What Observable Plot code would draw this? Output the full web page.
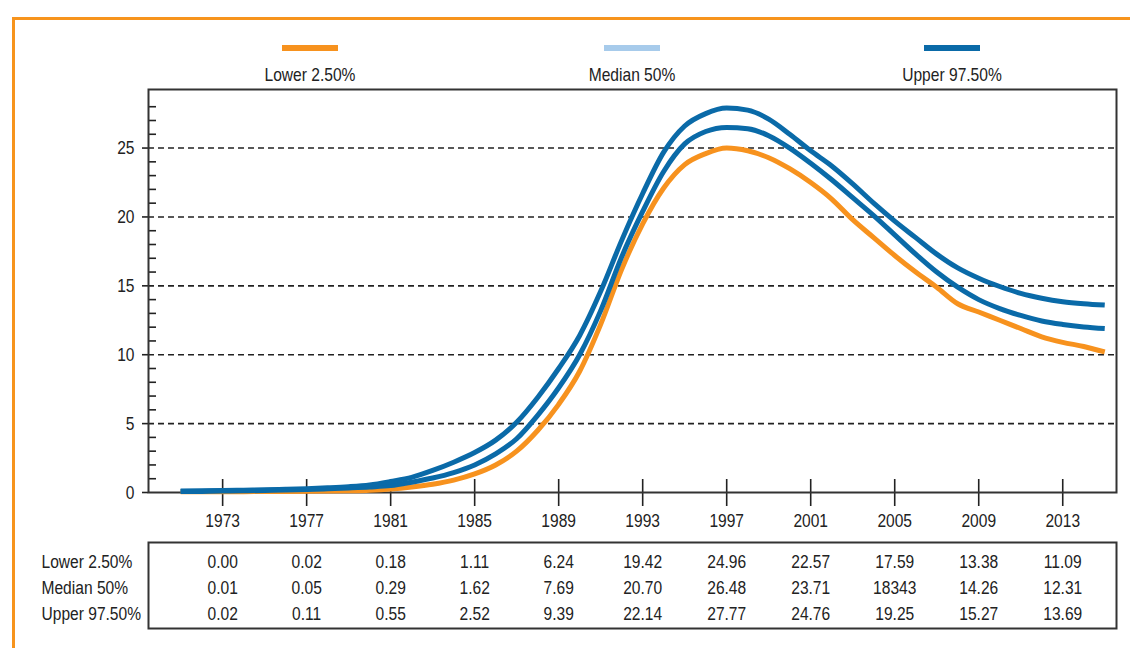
<!DOCTYPE html>
<html><head><meta charset="utf-8">
<script src="https://cdn.jsdelivr.net/npm/d3@7"></script>
<script src="https://cdn.jsdelivr.net/npm/@observablehq/plot@0.6"></script>
<style>
html,body{margin:0;padding:0;background:#fff;overflow:hidden}
#root{position:relative;width:1130px;height:648px;overflow:hidden;font-family:"Liberation Sans",Arial,sans-serif;color:#222}
#border{position:absolute;left:12px;top:17px;width:1200px;height:700px;border-left:3px solid #f7941d;border-top:3px solid #f7941d;box-sizing:border-box}
.sw{position:absolute;top:45px;width:56px;height:6px}
.lab{position:absolute;top:64px;width:200px;text-align:center;font-size:19px;line-height:22px;transform:scaleX(0.82);transform-origin:center}
#chart{position:absolute;left:0;top:80px}
#table{position:absolute;left:0;top:542px}
</style>
</head><body>
<div id="root">
  <div id="border"></div>
  <div id="legend"></div>
  <div id="chart"></div>
  <div id="table"></div>
</div>
<script>
// ---- data ----
const seriesNames = ["Lower 2.50%", "Median 50%", "Upper 97.50%"];
const lineColors = ["#f7921e", "#0a6aa8", "#0a6aa8"];
const legendColors = ["#f7921e", "#a7cbeb", "#0a6aa8"];

const years = [1971,1972,1973,1974,1975,1976,1977,1978,1979,1980,
  1981,1982,1983,1984,1985,1986,1987,1988,1989,1990,
  1991,1992,1993,1994,1995,1996,1997,1998,1999,2000,
  2001,2002,2003,2004,2005,2006,2007,2008,2009,2010,
  2011,2012,2013,2014,2015];

const lower = [0.05,0.05,0.05,0.06,0.07,0.08,0.09,0.10,0.12,0.16,
  0.25,0.4,0.6,0.9,1.35,2.0,3.0,4.5,6.4,8.8,
  12.2,16.2,19.5,22.1,23.8,24.6,25.0,24.8,24.3,23.5,
  22.5,21.3,19.8,18.5,17.2,16.0,14.9,13.7,13.1,12.5,
  11.9,11.3,10.9,10.6,10.2];

const median = [0.07,0.08,0.10,0.12,0.15,0.18,0.22,0.27,0.33,0.40,
  0.5,0.75,1.05,1.45,2.0,2.8,3.9,5.6,7.6,10.0,
  13.2,17.1,20.4,23.3,25.3,26.2,26.5,26.4,25.9,25.0,
  23.9,22.7,21.4,20.1,18.7,17.3,16.0,14.9,14.0,13.35,
  12.85,12.45,12.2,12.02,11.9];

const upper = [0.10,0.12,0.14,0.17,0.20,0.24,0.28,0.34,0.42,0.55,
  0.8,1.1,1.6,2.2,2.9,3.8,5.1,6.9,9.0,11.4,
  14.6,18.3,21.7,24.7,26.6,27.5,27.9,27.75,27.1,26.0,
  24.8,23.7,22.4,21.0,19.7,18.5,17.3,16.3,15.55,14.95,
  14.45,14.1,13.85,13.7,13.6];

const xTicks = [1973,1977,1981,1985,1989,1993,1997,2001,2005,2009,2013];
const yMajorTicks = [0,5,10,15,20,25];
const yMinorTicks = [1,2,3,4,6,7,8,9,11,12,13,14,16,17,18,19,21,22,23,24,26,27,28];

const tableLower  = ["0.00","0.02","0.18","1.11","6.24","19.42","24.96","22.57","17.59","13.38","11.09"];
const tableMedian = ["0.01","0.05","0.29","1.62","7.69","20.70","26.48","23.71","18343","14.26","12.31"];
const tableUpper  = ["0.02","0.11","0.55","2.52","9.39","22.14","27.77","24.76","19.25","15.27","13.69"];

// ---- build ----
const seriesValues = [lower, median, upper];
const xDomain = [1969.47, 2015.56];
const font = '"Liberation Sans",Arial,sans-serif';
const NARROW = 0.82;

// condense SVG text horizontally about its anchor (no narrow font installed)
function narrow(svg) {
  svg.querySelectorAll("text").forEach(t => {
    const x = +t.getAttribute("x") || 0;
    if (x) t.setAttribute("x", x / NARROW);
    t.setAttribute("transform", (t.getAttribute("transform") || "") + ` scale(${NARROW},1)`);
  });
  return svg;
}

// legend
const legendCenters = [310, 632, 952];
const legend = document.getElementById("legend");
seriesNames.forEach((name, i) => {
  const sw = document.createElement("div");
  sw.className = "sw";
  sw.style.left = (legendCenters[i] - 28) + "px";
  sw.style.background = legendColors[i];
  legend.appendChild(sw);
  const lb = document.createElement("div");
  lb.className = "lab";
  lb.style.left = (legendCenters[i] - 100) + "px";
  lb.textContent = name;
  legend.appendChild(lb);
});

const lineData = seriesValues.map(vals => years.map((y, j) => ({year: y, value: vals[j]})));

const chart = Plot.plot({
  width: 1130,
  height: 450,
  marginLeft: 148,
  marginRight: 14,
  marginTop: 9,
  marginBottom: 38,
  style: {fontFamily: font, fontSize: "19px", color: "#222", background: "transparent"},
  x: {domain: xDomain, label: null},
  y: {domain: [0, 29.25], label: null},
  marks: [
    Plot.gridY(yMajorTicks.slice(1), {stroke: "#222", strokeOpacity: 1, strokeWidth: 1.6, strokeDasharray: "6,4"}),
    Plot.axisY(yMajorTicks, {tickSize: 10, tickPadding: 4, stroke: "#222", strokeWidth: 1.6, strokeDasharray: "6,4", fontSize: 19, label: null}),
    Plot.axisY(yMinorTicks, {tickSize: 8, dx: 8, stroke: "#222", strokeWidth: 1.6, fill: "none", label: null}),
    Plot.axisX(xTicks, {tickSize: 14, tickPadding: 7, stroke: "#222", strokeWidth: 1.6, tickFormat: d => String(d), fontSize: 19, label: null}),
    Plot.axisX(xTicks, {tickSize: 13, dy: -13, stroke: "#222", strokeWidth: 1.6, fill: "none", label: null}),
    Plot.frame({stroke: "#333", strokeWidth: 2}),
    ...lineData.map((d, i) => Plot.line(d, {x: "year", y: "value", stroke: lineColors[i], strokeWidth: 5, curve: "monotone-x", strokeLinecap: "butt"}))
  ]
});
document.getElementById("chart").appendChild(narrow(chart));

// table
const tableRows = [tableLower, tableMedian, tableUpper];
const tableData = [];
tableRows.forEach((row, i) => row.forEach((v, j) => tableData.push({series: seriesNames[i], year: xTicks[j], text: v})));

const table = Plot.plot({
  width: 1130,
  height: 86,
  marginLeft: 148,
  marginRight: 14,
  marginTop: 19,
  marginBottom: 15,
  style: {fontFamily: font, fontSize: "19px", color: "#222", background: "transparent", overflow: "visible"},
  x: {domain: xDomain, axis: null},
  y: {type: "point", domain: seriesNames, padding: 0, axis: null},
  marks: [
    Plot.frame({stroke: "#333", strokeWidth: 2, insetTop: -19, insetBottom: -15}),
    Plot.text(tableData, {x: "year", y: "series", text: "text", fontSize: 19, fill: "#222"}),
    Plot.text(seriesNames, {y: d => d, text: d => d, frameAnchor: "left", textAnchor: "start", dx: -107, fontSize: 19, fill: "#222"})
  ]
});
document.getElementById("table").appendChild(narrow(table));
</script>
</body></html>
